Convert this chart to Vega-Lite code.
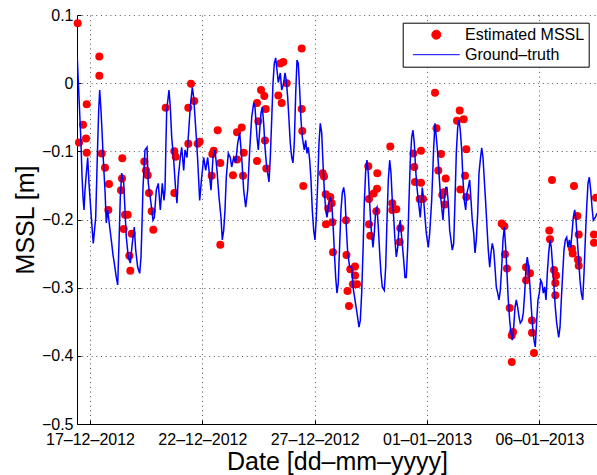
{
  "$schema": "https://vega.github.io/schema/vega-lite/v6.json",
  "width": 520,
  "height": 409,
  "autosize": {"type": "none"},
  "padding": {"left": 77, "top": 15, "right": 0, "bottom": 51},
  "background": "white",
  "config": {
    "view": {"stroke": null},
    "font": "Liberation Sans",
    "axis": {
      "labelFont": "Liberation Sans",
      "titleFont": "Liberation Sans",
      "labelFontSize": 16,
      "titleFontSize": 25,
      "titleFontWeight": "normal",
      "labelColor": "black",
      "titleColor": "black",
      "domainColor": "black",
      "domainWidth": 1,
      "tickColor": "black",
      "tickSize": -4,
      "grid": true,
      "gridColor": "#555555",
      "gridDash": [1, 3.7],
      "gridWidth": 1,
      "gridOpacity": 1
    },
    "legend": {"labelFont": "Liberation Sans"}
  },
  "datasets": {
    "estimated": [
      {"t":"2012-12-16T10:52","mssl":0.088},{"t":"2012-12-17T09:56","mssl":0.039},{"t":"2012-12-17T09:57","mssl":0.011},
      {"t":"2012-12-16T20:29","mssl":-0.031},{"t":"2012-12-16T16:31","mssl":-0.061},{"t":"2012-12-16T19:44","mssl":-0.081},
      {"t":"2012-12-16T12:15","mssl":-0.087},{"t":"2012-12-16T20:30","mssl":-0.102},{"t":"2012-12-17T12:30","mssl":-0.103},
      {"t":"2012-12-18T10:30","mssl":-0.110},{"t":"2012-12-17T16:01","mssl":-0.124},{"t":"2012-12-19T10:00","mssl":-0.115},
      {"t":"2012-12-19T11:49","mssl":-0.128},{"t":"2012-12-19T13:38","mssl":-0.135},{"t":"2012-12-18T10:11","mssl":-0.140},
      {"t":"2012-12-17T20:18","mssl":-0.148},{"t":"2012-12-18T09:07","mssl":-0.157},{"t":"2012-12-19T15:01","mssl":-0.161},
      {"t":"2012-12-17T19:33","mssl":-0.186},{"t":"2012-12-19T17:54","mssl":-0.188},{"t":"2012-12-18T13:23","mssl":-0.193},
      {"t":"2012-12-18T16:16","mssl":-0.193},{"t":"2012-12-18T12:00","mssl":-0.214},{"t":"2012-12-19T19:37","mssl":-0.215},
      {"t":"2012-12-18T20:32","mssl":-0.221},{"t":"2012-12-18T17:59","mssl":-0.253},{"t":"2012-12-18T19:03","mssl":-0.275},
      {"t":"2012-12-20T08:51","mssl":-0.036},{"t":"2012-12-21T11:53","mssl":-0.001},{"t":"2012-12-21T15:24","mssl":-0.026},
      {"t":"2012-12-21T08:59","mssl":-0.036},{"t":"2012-12-20T18:02","mssl":-0.100},{"t":"2012-12-20T19:32","mssl":-0.108},
      {"t":"2012-12-21T09:00","mssl":-0.089},{"t":"2012-12-21T19:02","mssl":-0.089},{"t":"2012-12-21T21:10","mssl":-0.086},
      {"t":"2012-12-22T16:23","mssl":-0.069},{"t":"2012-12-22T12:08","mssl":-0.099},{"t":"2012-12-22T10:38","mssl":-0.104},
      {"t":"2012-12-22T19:10","mssl":-0.117},{"t":"2012-12-23T13:01","mssl":-0.072},{"t":"2012-12-23T18:02","mssl":-0.065},
      {"t":"2012-12-23T20:10","mssl":-0.102},{"t":"2012-12-23T13:05","mssl":-0.112},{"t":"2012-12-23T08:44","mssl":-0.135},
      {"t":"2012-12-23T19:25","mssl":-0.136},{"t":"2012-12-22T09:59","mssl":-0.136},{"t":"2012-12-20T18:03","mssl":-0.161},
      {"t":"2012-12-22T19:11","mssl":-0.237},{"t":"2012-12-24T10:22","mssl":-0.029},{"t":"2012-12-24T10:23","mssl":-0.114},
      {"t":"2012-12-26T10:07","mssl":0.051},{"t":"2012-12-25T14:28","mssl":0.031},{"t":"2012-12-25T11:16","mssl":0.029},
      {"t":"2012-12-25T18:06","mssl":0.000},{"t":"2012-12-24T14:38","mssl":-0.010},{"t":"2012-12-24T18:10","mssl":-0.019},
      {"t":"2012-12-25T09:07","mssl":-0.018},{"t":"2012-12-25T12:45","mssl":-0.029},{"t":"2012-12-24T19:40","mssl":-0.038},
      {"t":"2012-12-26T10:08","mssl":-0.038},{"t":"2012-12-24T11:46","mssl":-0.056},{"t":"2012-12-24T18:55","mssl":-0.084},
      {"t":"2012-12-26T10:46","mssl":-0.070},{"t":"2012-12-24T20:19","mssl":-0.125},{"t":"2012-12-26T11:50","mssl":-0.151},
      {"t":"2012-12-27T08:33","mssl":-0.132},{"t":"2012-12-27T09:56","mssl":-0.137},{"t":"2012-12-27T11:45","mssl":-0.163},
      {"t":"2012-12-27T16:40","mssl":-0.167},{"t":"2012-12-27T18:10","mssl":-0.176},{"t":"2012-12-27T14:32","mssl":-0.184},
      {"t":"2012-12-27T12:04","mssl":-0.207},{"t":"2012-12-27T18:48","mssl":-0.204},{"t":"2012-12-28T09:26","mssl":-0.201},
      {"t":"2012-12-27T19:33","mssl":-0.248},{"t":"2012-12-28T09:58","mssl":-0.252},{"t":"2012-12-28T11:02","mssl":-0.305},
      {"t":"2013-01-01T08:30","mssl":-0.014},{"t":"2013-01-01T10:06","mssl":-0.066},{"t":"2012-12-30T08:45","mssl":-0.093},
      {"t":"2012-12-31T09:20","mssl":-0.103},{"t":"2012-12-31T17:32","mssl":-0.099},{"t":"2012-12-29T09:15","mssl":-0.122},
      {"t":"2012-12-31T10:23","mssl":-0.123},{"t":"2012-12-29T18:52","mssl":-0.132},{"t":"2012-12-29T18:33","mssl":-0.155},
      {"t":"2012-12-29T15:01","mssl":-0.162},{"t":"2012-12-29T10:00","mssl":-0.170},{"t":"2012-12-31T11:08","mssl":-0.145},
      {"t":"2012-12-31T17:35","mssl":-0.146},{"t":"2012-12-31T16:10","mssl":-0.170},{"t":"2012-12-31T19:41","mssl":-0.170},
      {"t":"2012-12-30T10:53","mssl":-0.176},{"t":"2012-12-30T10:55","mssl":-0.186},{"t":"2012-12-30T15:10","mssl":-0.185},
      {"t":"2012-12-29T17:48","mssl":-0.188},{"t":"2012-12-29T10:02","mssl":-0.207},{"t":"2012-12-29T11:23","mssl":-0.224},
      {"t":"2012-12-30T19:26","mssl":-0.213},{"t":"2012-12-30T18:47","mssl":-0.233},{"t":"2012-12-28T19:03","mssl":-0.269},
      {"t":"2012-12-28T14:02","mssl":-0.273},{"t":"2012-12-28T19:05","mssl":-0.282},{"t":"2012-12-28T16:55","mssl":-0.295},
      {"t":"2012-12-28T21:11","mssl":-0.295},{"t":"2012-12-28T12:38","mssl":-0.327},
      {"t":"2013-01-02T10:53","mssl":-0.040},{"t":"2013-01-02T08:00","mssl":-0.055},{"t":"2013-01-02T15:10","mssl":-0.053},
      {"t":"2013-01-02T17:56","mssl":-0.097},{"t":"2013-01-01T14:54","mssl":-0.104},{"t":"2013-01-01T12:01","mssl":-0.128},
      {"t":"2013-01-02T16:32","mssl":-0.136},{"t":"2013-01-01T19:56","mssl":-0.140},{"t":"2013-01-02T11:31","mssl":-0.156},
      {"t":"2013-01-01T16:18","mssl":-0.164},{"t":"2013-01-01T17:47","mssl":-0.160},{"t":"2013-01-02T17:58","mssl":-0.167},
      {"t":"2013-01-01T19:11","mssl":-0.178},{"t":"2013-01-04T07:45","mssl":-0.206},{"t":"2013-01-04T10:32","mssl":-0.210},
      {"t":"2013-01-04T11:16","mssl":-0.251},{"t":"2013-01-04T13:25","mssl":-0.272},{"t":"2013-01-05T09:43","mssl":-0.270},
      {"t":"2013-01-05T09:45","mssl":-0.289},{"t":"2013-01-04T16:18","mssl":-0.330},{"t":"2013-01-04T18:26","mssl":-0.370},
      {"t":"2013-01-04T19:49","mssl":-0.365},{"t":"2013-01-04T18:28","mssl":-0.409},
      {"t":"2013-01-06T13:28","mssl":-0.142},{"t":"2013-01-07T12:59","mssl":-0.151},{"t":"2013-01-08T12:28","mssl":-0.168},
      {"t":"2013-01-07T16:31","mssl":-0.195},{"t":"2013-01-06T10:35","mssl":-0.216},{"t":"2013-01-06T11:20","mssl":-0.229},
      {"t":"2013-01-07T17:59","mssl":-0.222},{"t":"2013-01-08T10:19","mssl":-0.222},{"t":"2013-01-08T10:20","mssl":-0.234},
      {"t":"2013-01-07T10:50","mssl":-0.243},{"t":"2013-01-07T11:34","mssl":-0.250},{"t":"2013-01-07T17:14","mssl":-0.259},
      {"t":"2013-01-07T18:00","mssl":-0.268},{"t":"2013-01-05T13:59","mssl":-0.279},{"t":"2013-01-06T15:37","mssl":-0.274},
      {"t":"2013-01-06T17:45","mssl":-0.282},{"t":"2013-01-06T17:01","mssl":-0.293},{"t":"2013-01-06T17:02","mssl":-0.311},
      {"t":"2013-01-05T16:06","mssl":-0.348},{"t":"2013-01-05T16:07","mssl":-0.366},{"t":"2013-01-05T18:14","mssl":-0.396}
    ],
    "ground_truth": [
      {"t":"2012-12-16T10:26","mssl":0.038},{"t":"2012-12-16T11:11","mssl":0.012},{"t":"2012-12-16T12:15","mssl":-0.021},
      {"t":"2012-12-16T13:19","mssl":-0.054},{"t":"2012-12-16T14:23","mssl":-0.088},{"t":"2012-12-16T15:27","mssl":-0.135},
      {"t":"2012-12-16T16:31","mssl":-0.167},{"t":"2012-12-16T17:35","mssl":-0.186},{"t":"2012-12-16T18:40","mssl":-0.157},
      {"t":"2012-12-16T19:44","mssl":-0.138},{"t":"2012-12-16T21:32","mssl":-0.109},{"t":"2012-12-16T22:56","mssl":-0.147},
      {"t":"2012-12-17T00:32","mssl":-0.179},{"t":"2012-12-17T01:49","mssl":-0.205},{"t":"2012-12-17T03:31","mssl":-0.235},
      {"t":"2012-12-17T04:48","mssl":-0.216},{"t":"2012-12-17T06:05","mssl":-0.197},{"t":"2012-12-17T07:09","mssl":-0.142},
      {"t":"2012-12-17T08:13","mssl":-0.088},{"t":"2012-12-17T09:17","mssl":-0.040},{"t":"2012-12-17T10:22","mssl":-0.010},
      {"t":"2012-12-17T11:45","mssl":-0.040},{"t":"2012-12-17T12:49","mssl":-0.069},{"t":"2012-12-17T13:53","mssl":-0.103},
      {"t":"2012-12-17T14:57","mssl":-0.131},{"t":"2012-12-17T16:01","mssl":-0.157},{"t":"2012-12-17T17:25","mssl":-0.205},
      {"t":"2012-12-17T18:54","mssl":-0.186},{"t":"2012-12-17T21:02","mssl":-0.211},{"t":"2012-12-17T23:11","mssl":-0.235},
      {"t":"2012-12-18T00:34","mssl":-0.252},{"t":"2012-12-18T01:57","mssl":-0.264},{"t":"2012-12-18T04:05","mssl":-0.285},
      {"t":"2012-12-18T05:35","mssl":-0.296},{"t":"2012-12-18T06:59","mssl":-0.235},{"t":"2012-12-18T08:22","mssl":-0.167},
      {"t":"2012-12-18T09:52","mssl":-0.132},{"t":"2012-12-18T12:00","mssl":-0.147},{"t":"2012-12-18T13:23","mssl":-0.186},
      {"t":"2012-12-18T14:46","mssl":-0.226},{"t":"2012-12-18T16:55","mssl":-0.255},{"t":"2012-12-18T19:03","mssl":-0.264},
      {"t":"2012-12-18T21:11","mssl":-0.235},{"t":"2012-12-18T23:19","mssl":-0.211},{"t":"2012-12-19T00:49","mssl":-0.245},
      {"t":"2012-12-19T02:57","mssl":-0.270},{"t":"2012-12-19T05:05","mssl":-0.279},{"t":"2012-12-19T06:28","mssl":-0.255},
      {"t":"2012-12-19T07:32","mssl":-0.208},{"t":"2012-12-19T08:37","mssl":-0.153},{"t":"2012-12-19T10:45","mssl":-0.098},
      {"t":"2012-12-19T12:53","mssl":-0.094},{"t":"2012-12-19T14:16","mssl":-0.147},{"t":"2012-12-19T17:09","mssl":-0.176},
      {"t":"2012-12-19T19:17","mssl":-0.201},{"t":"2012-12-19T20:41","mssl":-0.197},{"t":"2012-12-19T22:49","mssl":-0.157},
      {"t":"2012-12-20T00:57","mssl":-0.147},{"t":"2012-12-20T03:05","mssl":-0.186},{"t":"2012-12-20T05:13","mssl":-0.147},
      {"t":"2012-12-20T07:02","mssl":-0.172},{"t":"2012-12-20T08:07","mssl":-0.157},{"t":"2012-12-20T08:58","mssl":-0.098},
      {"t":"2012-12-20T09:55","mssl":-0.040},{"t":"2012-12-20T12:23","mssl":-0.010},{"t":"2012-12-20T13:46","mssl":-0.035},
      {"t":"2012-12-20T15:16","mssl":-0.079},{"t":"2012-12-20T17:24","mssl":-0.113},{"t":"2012-12-20T19:32","mssl":-0.157},
      {"t":"2012-12-20T20:55","mssl":-0.176},{"t":"2012-12-20T22:19","mssl":-0.138},{"t":"2012-12-21T00:27","mssl":-0.109},
      {"t":"2012-12-21T01:56","mssl":-0.094},{"t":"2012-12-21T04:05","mssl":-0.128},{"t":"2012-12-21T05:28","mssl":-0.098},
      {"t":"2012-12-21T07:37","mssl":-0.109},{"t":"2012-12-21T08:59","mssl":-0.079},{"t":"2012-12-21T11:08","mssl":-0.035},
      {"t":"2012-12-21T13:16","mssl":-0.006},{"t":"2012-12-21T14:46","mssl":-0.021},{"t":"2012-12-21T16:09","mssl":-0.050},
      {"t":"2012-12-21T17:32","mssl":-0.079},{"t":"2012-12-21T19:02","mssl":-0.113},{"t":"2012-12-21T21:10","mssl":-0.172},
      {"t":"2012-12-21T23:18","mssl":-0.138},{"t":"2012-12-22T01:26","mssl":-0.109},{"t":"2012-12-22T03:35","mssl":-0.128},
      {"t":"2012-12-22T05:43","mssl":-0.109},{"t":"2012-12-22T07:51","mssl":-0.138},{"t":"2012-12-22T09:14","mssl":-0.157},
      {"t":"2012-12-22T11:23","mssl":-0.109},{"t":"2012-12-22T13:31","mssl":-0.098},{"t":"2012-12-22T15:39","mssl":-0.128},
      {"t":"2012-12-22T17:47","mssl":-0.167},{"t":"2012-12-22T19:55","mssl":-0.197},{"t":"2012-12-22T21:19","mssl":-0.230},
      {"t":"2012-12-22T22:49","mssl":-0.216},{"t":"2012-12-23T00:11","mssl":-0.186},{"t":"2012-12-23T01:35","mssl":-0.138},
      {"t":"2012-12-23T03:43","mssl":-0.103},{"t":"2012-12-23T05:51","mssl":-0.109},{"t":"2012-12-23T07:21","mssl":-0.123},
      {"t":"2012-12-23T09:29","mssl":-0.109},{"t":"2012-12-23T11:37","mssl":-0.117},{"t":"2012-12-23T13:46","mssl":-0.088},
      {"t":"2012-12-23T15:54","mssl":-0.073},{"t":"2012-12-23T18:02","mssl":-0.109},{"t":"2012-12-23T20:10","mssl":-0.157},
      {"t":"2012-12-23T22:18","mssl":-0.182},{"t":"2012-12-24T00:26","mssl":-0.157},{"t":"2012-12-24T02:35","mssl":-0.098},
      {"t":"2012-12-24T04:43","mssl":-0.050},{"t":"2012-12-24T06:51","mssl":-0.029},{"t":"2012-12-24T08:14","mssl":-0.035},
      {"t":"2012-12-24T10:22","mssl":-0.079},{"t":"2012-12-24T11:46","mssl":-0.098},{"t":"2012-12-24T13:16","mssl":-0.069},
      {"t":"2012-12-24T14:38","mssl":-0.044},{"t":"2012-12-24T16:02","mssl":-0.035},{"t":"2012-12-24T17:32","mssl":-0.059},
      {"t":"2012-12-24T18:55","mssl":-0.094},{"t":"2012-12-24T20:19","mssl":-0.117},{"t":"2012-12-24T21:48","mssl":-0.132},
      {"t":"2012-12-24T23:11","mssl":-0.145},{"t":"2012-12-25T00:35","mssl":-0.109},{"t":"2012-12-25T02:04","mssl":-0.054},
      {"t":"2012-12-25T03:28","mssl":0.000},{"t":"2012-12-25T04:51","mssl":0.029},{"t":"2012-12-25T06:20","mssl":0.037},
      {"t":"2012-12-25T07:44","mssl":0.019},{"t":"2012-12-25T09:07","mssl":0.001},{"t":"2012-12-25T11:16","mssl":0.015},
      {"t":"2012-12-25T12:45","mssl":-0.010},{"t":"2012-12-25T14:53","mssl":0.000},{"t":"2012-12-25T16:17","mssl":0.015},
      {"t":"2012-12-25T17:40","mssl":0.004},{"t":"2012-12-25T19:10","mssl":-0.021},{"t":"2012-12-25T20:33","mssl":-0.054},
      {"t":"2012-12-25T21:56","mssl":-0.088},{"t":"2012-12-25T23:26","mssl":-0.109},{"t":"2012-12-26T00:49","mssl":-0.117},
      {"t":"2012-12-26T02:13","mssl":-0.088},{"t":"2012-12-26T03:43","mssl":-0.015},{"t":"2012-12-26T05:06","mssl":0.034},
      {"t":"2012-12-26T06:29","mssl":0.029},{"t":"2012-12-26T07:59","mssl":-0.010},{"t":"2012-12-26T09:22","mssl":-0.054},
      {"t":"2012-12-26T10:46","mssl":-0.079},{"t":"2012-12-26T12:53","mssl":-0.098},{"t":"2012-12-26T14:23","mssl":-0.084},
      {"t":"2012-12-26T15:47","mssl":-0.103},{"t":"2012-12-26T17:10","mssl":-0.094},{"t":"2012-12-26T18:40","mssl":-0.113},
      {"t":"2012-12-26T20:03","mssl":-0.142},{"t":"2012-12-26T21:26","mssl":-0.186},{"t":"2012-12-26T22:56","mssl":-0.216},
      {"t":"2012-12-27T00:19","mssl":-0.230},{"t":"2012-12-27T01:43","mssl":-0.197},{"t":"2012-12-27T03:13","mssl":-0.147},
      {"t":"2012-12-27T04:36","mssl":-0.088},{"t":"2012-12-27T05:59","mssl":-0.059},{"t":"2012-12-27T07:29","mssl":-0.073},
      {"t":"2012-12-27T08:52","mssl":-0.117},{"t":"2012-12-27T10:16","mssl":-0.157},{"t":"2012-12-27T11:45","mssl":-0.186},
      {"t":"2012-12-27T13:08","mssl":-0.197},{"t":"2012-12-27T14:32","mssl":-0.182},{"t":"2012-12-27T16:40","mssl":-0.167},
      {"t":"2012-12-27T18:10","mssl":-0.176},{"t":"2012-12-27T19:33","mssl":-0.205},{"t":"2012-12-27T20:56","mssl":-0.245},
      {"t":"2012-12-27T22:26","mssl":-0.285},{"t":"2012-12-27T23:49","mssl":-0.308},{"t":"2012-12-28T01:13","mssl":-0.293},
      {"t":"2012-12-28T02:43","mssl":-0.235},{"t":"2012-12-28T04:05","mssl":-0.186},{"t":"2012-12-28T05:29","mssl":-0.161},
      {"t":"2012-12-28T06:59","mssl":-0.153},{"t":"2012-12-28T08:22","mssl":-0.167},{"t":"2012-12-28T09:45","mssl":-0.211},
      {"t":"2012-12-28T11:15","mssl":-0.249},{"t":"2012-12-28T13:23","mssl":-0.270},{"t":"2012-12-28T15:31","mssl":-0.270},
      {"t":"2012-12-28T16:55","mssl":-0.299},{"t":"2012-12-28T19:03","mssl":-0.318},{"t":"2012-12-28T21:11","mssl":-0.337},
      {"t":"2012-12-28T23:19","mssl":-0.358},{"t":"2012-12-29T00:43","mssl":-0.348},{"t":"2012-12-29T02:12","mssl":-0.308},
      {"t":"2012-12-29T03:35","mssl":-0.249},{"t":"2012-12-29T04:59","mssl":-0.176},{"t":"2012-12-29T06:29","mssl":-0.128},
      {"t":"2012-12-29T07:52","mssl":-0.113},{"t":"2012-12-29T09:15","mssl":-0.132},{"t":"2012-12-29T10:45","mssl":-0.176},
      {"t":"2012-12-29T12:08","mssl":-0.211},{"t":"2012-12-29T14:16","mssl":-0.241},{"t":"2012-12-29T15:40","mssl":-0.220},
      {"t":"2012-12-29T17:10","mssl":-0.186},{"t":"2012-12-29T18:33","mssl":-0.182},{"t":"2012-12-29T19:56","mssl":-0.211},
      {"t":"2012-12-29T21:26","mssl":-0.249},{"t":"2012-12-29T22:49","mssl":-0.279},{"t":"2012-12-30T00:13","mssl":-0.299},
      {"t":"2012-12-30T02:20","mssl":-0.304},{"t":"2012-12-30T03:50","mssl":-0.270},{"t":"2012-12-30T05:14","mssl":-0.201},
      {"t":"2012-12-30T06:37","mssl":-0.142},{"t":"2012-12-30T08:07","mssl":-0.113},{"t":"2012-12-30T09:30","mssl":-0.132},
      {"t":"2012-12-30T10:53","mssl":-0.172},{"t":"2012-12-30T12:23","mssl":-0.197},{"t":"2012-12-30T13:46","mssl":-0.230},
      {"t":"2012-12-30T15:10","mssl":-0.255},{"t":"2012-12-30T16:40","mssl":-0.241},{"t":"2012-12-30T18:02","mssl":-0.211},
      {"t":"2012-12-30T19:26","mssl":-0.201},{"t":"2012-12-30T20:56","mssl":-0.226},{"t":"2012-12-30T23:04","mssl":-0.260},
      {"t":"2012-12-31T00:27","mssl":-0.285},{"t":"2012-12-31T01:50","mssl":-0.285},{"t":"2012-12-31T03:20","mssl":-0.241},
      {"t":"2012-12-31T04:43","mssl":-0.172},{"t":"2012-12-31T06:07","mssl":-0.113},{"t":"2012-12-31T07:37","mssl":-0.079},
      {"t":"2012-12-31T09:00","mssl":-0.069},{"t":"2012-12-31T10:23","mssl":-0.088},{"t":"2012-12-31T11:53","mssl":-0.128},
      {"t":"2012-12-31T13:16","mssl":-0.153},{"t":"2012-12-31T14:40","mssl":-0.172},{"t":"2012-12-31T16:48","mssl":-0.197},
      {"t":"2012-12-31T18:56","mssl":-0.153},{"t":"2012-12-31T20:26","mssl":-0.172},{"t":"2012-12-31T21:49","mssl":-0.197},
      {"t":"2012-12-31T23:13","mssl":-0.220},{"t":"2013-01-01T01:20","mssl":-0.241},{"t":"2013-01-01T02:50","mssl":-0.220},
      {"t":"2013-01-01T04:58","mssl":-0.172},{"t":"2013-01-01T07:07","mssl":-0.094},{"t":"2013-01-01T08:30","mssl":-0.059},
      {"t":"2013-01-01T09:53","mssl":-0.079},{"t":"2013-01-01T11:23","mssl":-0.103},{"t":"2013-01-01T12:46","mssl":-0.132},
      {"t":"2013-01-01T14:10","mssl":-0.161},{"t":"2013-01-01T15:40","mssl":-0.182},{"t":"2013-01-01T17:02","mssl":-0.201},
      {"t":"2013-01-01T18:26","mssl":-0.172},{"t":"2013-01-01T19:56","mssl":-0.153},{"t":"2013-01-01T21:19","mssl":-0.153},
      {"t":"2013-01-01T22:43","mssl":-0.176},{"t":"2013-01-02T00:12","mssl":-0.216},{"t":"2013-01-02T01:35","mssl":-0.230},
      {"t":"2013-01-02T02:59","mssl":-0.245},{"t":"2013-01-02T04:29","mssl":-0.235},{"t":"2013-01-02T05:52","mssl":-0.172},
      {"t":"2013-01-02T07:15","mssl":-0.103},{"t":"2013-01-02T08:45","mssl":-0.065},{"t":"2013-01-02T10:08","mssl":-0.054},
      {"t":"2013-01-02T11:31","mssl":-0.069},{"t":"2013-01-02T13:01","mssl":-0.098},{"t":"2013-01-02T14:25","mssl":-0.142},
      {"t":"2013-01-02T15:48","mssl":-0.172},{"t":"2013-01-02T17:17","mssl":-0.186},{"t":"2013-01-02T18:41","mssl":-0.161},
      {"t":"2013-01-02T20:04","mssl":-0.153},{"t":"2013-01-02T21:34","mssl":-0.142},{"t":"2013-01-02T22:58","mssl":-0.172},
      {"t":"2013-01-03T00:20","mssl":-0.201},{"t":"2013-01-03T01:50","mssl":-0.220},{"t":"2013-01-03T03:14","mssl":-0.249},
      {"t":"2013-01-03T04:37","mssl":-0.230},{"t":"2013-01-03T06:07","mssl":-0.191},{"t":"2013-01-03T07:30","mssl":-0.132},
      {"t":"2013-01-03T08:53","mssl":-0.113},{"t":"2013-01-03T10:23","mssl":-0.095},{"t":"2013-01-03T11:47","mssl":-0.109},
      {"t":"2013-01-03T13:10","mssl":-0.142},{"t":"2013-01-03T14:40","mssl":-0.176},{"t":"2013-01-03T16:03","mssl":-0.211},
      {"t":"2013-01-03T17:26","mssl":-0.245},{"t":"2013-01-03T18:56","mssl":-0.270},{"t":"2013-01-03T20:19","mssl":-0.249},
      {"t":"2013-01-03T21:43","mssl":-0.235},{"t":"2013-01-03T23:13","mssl":-0.245},{"t":"2013-01-04T00:35","mssl":-0.270},
      {"t":"2013-01-04T01:59","mssl":-0.299},{"t":"2013-01-04T03:29","mssl":-0.308},{"t":"2013-01-04T04:52","mssl":-0.318},
      {"t":"2013-01-04T06:15","mssl":-0.304},{"t":"2013-01-04T07:45","mssl":-0.270},{"t":"2013-01-04T09:08","mssl":-0.230},
      {"t":"2013-01-04T10:32","mssl":-0.211},{"t":"2013-01-04T12:01","mssl":-0.241},{"t":"2013-01-04T13:25","mssl":-0.279},
      {"t":"2013-01-04T14:48","mssl":-0.318},{"t":"2013-01-04T16:18","mssl":-0.348},{"t":"2013-01-04T17:41","mssl":-0.367},
      {"t":"2013-01-04T19:04","mssl":-0.377},{"t":"2013-01-04T20:34","mssl":-0.358},{"t":"2013-01-04T21:58","mssl":-0.329},
      {"t":"2013-01-04T23:21","mssl":-0.318},{"t":"2013-01-05T00:50","mssl":-0.329},{"t":"2013-01-05T02:14","mssl":-0.343},
      {"t":"2013-01-05T03:37","mssl":-0.352},{"t":"2013-01-05T05:26","mssl":-0.348},{"t":"2013-01-05T06:50","mssl":-0.337},
      {"t":"2013-01-05T08:19","mssl":-0.308},{"t":"2013-01-05T09:43","mssl":-0.270},{"t":"2013-01-05T11:06","mssl":-0.255},
      {"t":"2013-01-05T12:35","mssl":-0.270},{"t":"2013-01-05T13:59","mssl":-0.299},{"t":"2013-01-05T15:22","mssl":-0.329},
      {"t":"2013-01-05T16:52","mssl":-0.358},{"t":"2013-01-05T18:16","mssl":-0.377},{"t":"2013-01-05T19:38","mssl":-0.387},
      {"t":"2013-01-05T21:08","mssl":-0.348},{"t":"2013-01-05T22:32","mssl":-0.318},{"t":"2013-01-05T23:55","mssl":-0.308},
      {"t":"2013-01-06T01:25","mssl":-0.289},{"t":"2013-01-06T02:48","mssl":-0.293},{"t":"2013-01-06T04:11","mssl":-0.308},
      {"t":"2013-01-06T05:41","mssl":-0.299},{"t":"2013-01-06T07:04","mssl":-0.318},{"t":"2013-01-06T08:28","mssl":-0.279},
      {"t":"2013-01-06T09:58","mssl":-0.249},{"t":"2013-01-06T11:21","mssl":-0.230},{"t":"2013-01-06T12:44","mssl":-0.241},
      {"t":"2013-01-06T14:14","mssl":-0.270},{"t":"2013-01-06T15:37","mssl":-0.299},{"t":"2013-01-06T17:01","mssl":-0.329},
      {"t":"2013-01-06T18:30","mssl":-0.352},{"t":"2013-01-06T20:38","mssl":-0.373},{"t":"2013-01-06T22:02","mssl":-0.358},
      {"t":"2013-01-06T23:25","mssl":-0.318},{"t":"2013-01-07T00:55","mssl":-0.279},{"t":"2013-01-07T02:18","mssl":-0.245},
      {"t":"2013-01-07T03:41","mssl":-0.230},{"t":"2013-01-07T05:11","mssl":-0.226},{"t":"2013-01-07T06:34","mssl":-0.241},
      {"t":"2013-01-07T07:58","mssl":-0.230},{"t":"2013-01-07T09:28","mssl":-0.241},{"t":"2013-01-07T10:51","mssl":-0.220},
      {"t":"2013-01-07T12:14","mssl":-0.197},{"t":"2013-01-07T13:44","mssl":-0.186},{"t":"2013-01-07T15:07","mssl":-0.201},
      {"t":"2013-01-07T16:31","mssl":-0.230},{"t":"2013-01-07T18:00","mssl":-0.260},{"t":"2013-01-07T19:23","mssl":-0.289},
      {"t":"2013-01-07T20:47","mssl":-0.308},{"t":"2013-01-07T22:17","mssl":-0.318},{"t":"2013-01-07T23:40","mssl":-0.279},
      {"t":"2013-01-08T01:03","mssl":-0.230},{"t":"2013-01-08T02:33","mssl":-0.182},{"t":"2013-01-08T03:56","mssl":-0.147},
      {"t":"2013-01-08T05:20","mssl":-0.138},{"t":"2013-01-08T06:49","mssl":-0.157},{"t":"2013-01-08T08:13","mssl":-0.182},
      {"t":"2013-01-08T09:36","mssl":-0.201},{"t":"2013-01-08T11:44","mssl":-0.197},{"t":"2013-01-08T13:33","mssl":-0.191}
    ]
  },
  "encoding": {
    "x": {
      "field": "t",
      "type": "temporal",
      "scale": {
        "domain": [
          {"year": 2012, "month": 12, "date": 16, "hours": 10, "minutes": 7},
          {"year": 2013, "month": 1, "date": 8, "hours": 13, "minutes": 33}
        ],
        "nice": false
      },
      "axis": {
        "title": "Date [dd–mm–yyyy]",
        "values": [
          {"year": 2012, "month": 12, "date": 17},
          {"year": 2012, "month": 12, "date": 22},
          {"year": 2012, "month": 12, "date": 27},
          {"year": 2013, "month": 1, "date": 1},
          {"year": 2013, "month": 1, "date": 6}
        ],
        "format": "%d–%m–%Y",
        "labelPadding": 11,
        "titlePadding": 2,
        "labelFlush": false,
        "labelOverlap": false
      }
    },
    "y": {
      "field": "mssl",
      "type": "quantitative",
      "scale": {"domain": [-0.5, 0.1], "nice": false, "zero": false},
      "axis": {
        "title": "MSSL [m]",
        "values": [-0.5, -0.4, -0.3, -0.2, -0.1, 0, 0.1],
        "labelExpr": "format(datum.value, '.1~f')",
        "labelPadding": 8,
        "titlePadding": 3
      }
    }
  },
  "layer": [
    {
      "data": {"name": "estimated"},
      "mark": {"type": "point", "filled": true, "size": 64, "opacity": 1, "strokeWidth": 0},
      "encoding": {
        "color": {
          "datum": "Estimated MSSL",
          "type": "nominal",
          "scale": {"domain": ["Estimated MSSL", "Ground–truth"], "range": ["#ff0000", "#0000ff"]},
          "legend": {
            "title": null,
            "orient": "none",
            "legendX": 325.7,
            "legendY": 7.7,
            "padding": 4,
            "strokeColor": "black",
            "fillColor": "white",
            "labelFontSize": 16,
            "labelColor": "black",
            "labelFont": "Liberation Sans",
            "labelLimit": 300,
            "symbolSize": 81,
            "symbolOffset": 21.6,
            "labelOffset": 20.7,
            "rowPadding": 4,
            "symbolStrokeWidth": 1,
            "encode": {
              "symbols": {
                "update": {
                  "shape": {"signal": "datum.value === 'Ground–truth' ? 'M-5.2,0H5.2' : 'circle'"},
                  "fill": {"signal": "datum.value === 'Ground–truth' ? 'transparent' : '#ff0000'"},
                  "stroke": {"signal": "datum.value === 'Ground–truth' ? '#0000ff' : 'transparent'"},
                  "strokeWidth": {"value": 1},
                  "size": {"value": 81},
                  "opacity": {"value": 1}
                }
              }
            }
          }
        }
      }
    },
    {
      "data": {"name": "ground_truth"},
      "mark": {"type": "line", "strokeWidth": 1.5, "clip": true},
      "encoding": {
        "color": {
          "datum": "Ground–truth",
          "type": "nominal",
          "legend": {
            "title": null,
            "orient": "none",
            "legendX": 325.7,
            "legendY": 7.7,
            "padding": 4,
            "strokeColor": "black",
            "fillColor": "white",
            "labelFontSize": 16,
            "labelColor": "black",
            "labelFont": "Liberation Sans",
            "labelLimit": 300,
            "symbolSize": 81,
            "symbolOffset": 21.6,
            "labelOffset": 20.7,
            "rowPadding": 4,
            "symbolStrokeWidth": 1,
            "encode": {
              "symbols": {
                "update": {
                  "shape": {"signal": "datum.value === 'Ground–truth' ? 'M-5.2,0H5.2' : 'circle'"},
                  "fill": {"signal": "datum.value === 'Ground–truth' ? 'transparent' : '#ff0000'"},
                  "stroke": {"signal": "datum.value === 'Ground–truth' ? '#0000ff' : 'transparent'"},
                  "strokeWidth": {"value": 1},
                  "size": {"value": 81},
                  "opacity": {"value": 1}
                }
              }
            }
          }
        }
      }
    }
  ]
}
